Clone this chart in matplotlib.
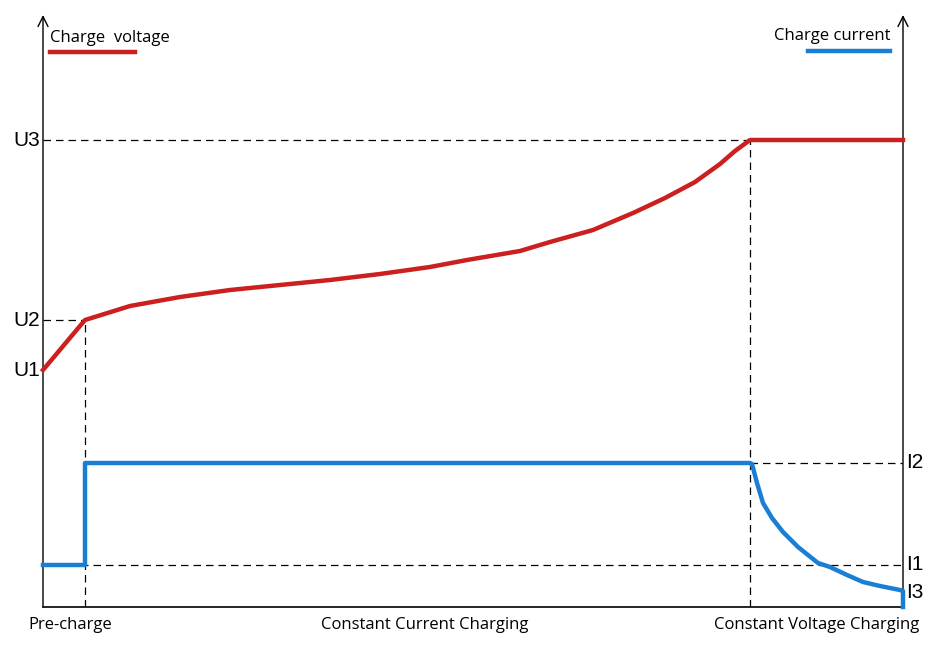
import matplotlib
matplotlib.use("Agg")
import matplotlib.pyplot as plt

# Data (x: time units, y: level units)
t_pre = 42
t_cv = 707
t_end = 860
U1, U2, U3 = 237, 287, 467
I1, I2, I3 = 42, 144, 17

volt_t = [0, 42, 87, 137, 187, 237, 287, 337, 387, 424, 477, 507, 550, 590, 622, 652, 677, 692, 707, 860]
volt_v = [237, 287, 301, 310, 317, 322, 327, 333, 340, 347, 356, 365, 377, 394, 409, 425, 443, 456, 467, 467]

curr_t = [0, 42, 42, 707, 709, 714, 720, 729, 740, 755, 775, 787, 804, 820, 837, 857, 860, 860]
curr_i = [42, 42, 144, 144, 143, 124, 104, 89, 75, 60, 44, 40, 32, 25, 21, 17, 16, 0]

phase_labels = ["Pre-charge", "Constant Current Charging", "Constant Voltage Charging"]
phase_pos = [27, 382, 774]

red = "#cc1f1f"
blue = "#1a7fd4"

fig = plt.figure(figsize=(9.4, 6.46), dpi=100)
ax = fig.add_axes([43/940, 39/646, 860/940, 592/646])
ax.set_xlim(0, 860)
ax.set_ylim(0, 592)
ax.axis("off")

# axes lines
ax.plot([0, t_end], [0, 0], color="black", lw=1.2, clip_on=False)
for x in [0, t_end]:
    ax.annotate("", xy=(x, 592), xytext=(x, 0),
                arrowprops=dict(arrowstyle="->", color="black", lw=1.0,
                                mutation_scale=18, shrinkA=0, shrinkB=0),
                annotation_clip=False)

dash = dict(color="black", lw=0.9, ls=(0, (6, 4)))
ax.plot([0, t_cv], [U3, U3], **dash)
ax.plot([0, t_pre], [U2, U2], **dash)
ax.plot([t_pre, t_pre], [0, U2], **dash)
ax.plot([t_cv, t_cv], [0, U3], **dash)
ax.plot([t_cv, t_end], [I2, I2], **dash)
ax.plot([0, t_end], [I1, I1], **dash)

ax.plot(volt_t, volt_v, color=red, lw=3.2, solid_joinstyle="round", clip_on=False, zorder=5)
ax.plot(curr_t, curr_i, color=blue, lw=3.2, solid_joinstyle="round", clip_on=False, zorder=5)

lab = dict(fontsize=15, family="Liberation Sans", va="center")
for name, v in [("U3", U3), ("U2", U2), ("U1", U1)]:
    ax.text(-3, v, name, ha="right", **lab)
for name, v in [("I2", I2), ("I1", I1), ("I3", I3 - 3)]:
    ax.text(t_end + 3, v, name, ha="left", **lab)

small = dict(fontsize=12, family="Open Sans", va="center")
ax.text(7, 569, "Charge  voltage", ha="left", **small)
ax.plot([7, 92], [555, 555], color=red, lw=3.2, clip_on=False)
ax.text(847, 571, "Charge current", ha="right", **small)
ax.plot([765, 847], [556, 556], color=blue, lw=3.2, clip_on=False)

for name, x in zip(phase_labels, phase_pos):
    ax.text(x, -18, name, ha="center", **small)

fig.savefig("out.png", dpi=100, facecolor="white")
